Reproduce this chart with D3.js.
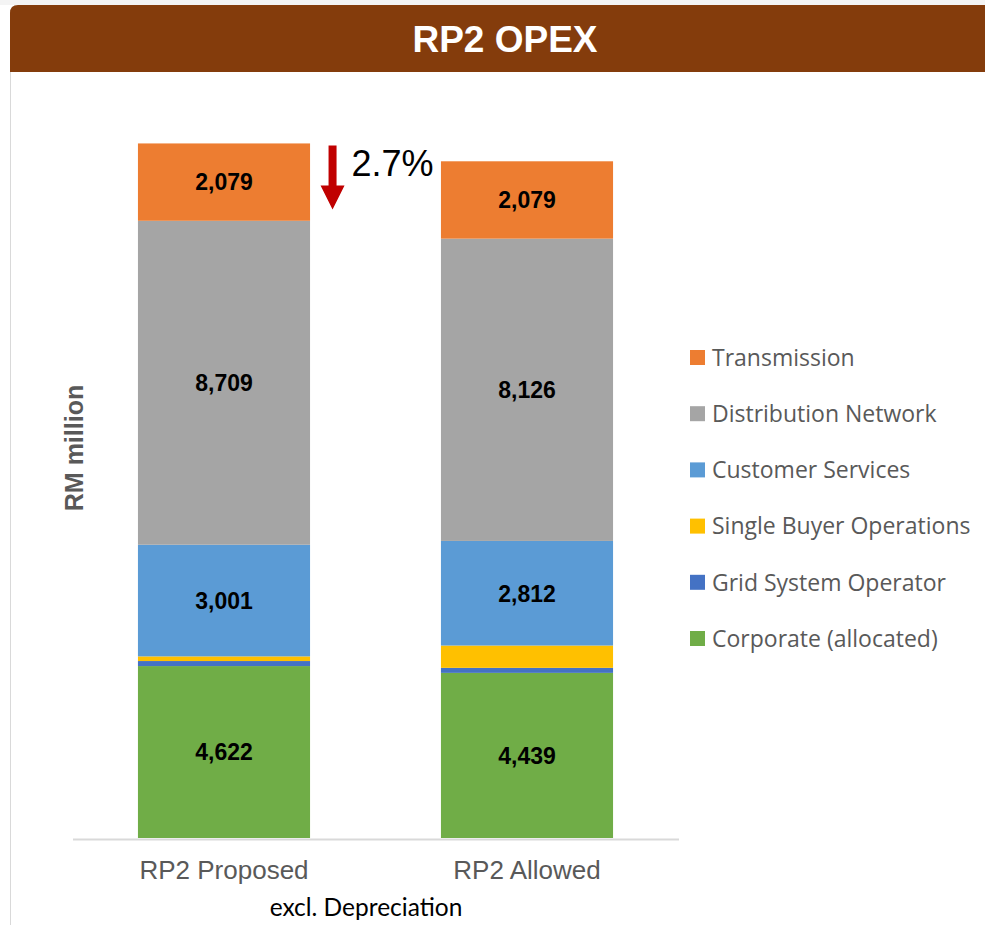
<!DOCTYPE html>
<html>
<head>
<meta charset="utf-8">
<script src="https://cdn.jsdelivr.net/npm/d3@7"></script>
<style>
  body { margin: 0; background: #fff; }
  svg { display: block; }
</style>
</head>
<body>
<div id="chart"></div>
<script>
// values (RM million)
const categories = ['RP2 Proposed', 'RP2 Allowed'];
const seriesNames = ['Corporate (allocated)', 'Grid System Operator', 'Single Buyer Operations',
  'Customer Services', 'Distribution Network', 'Transmission'];
const corporate = [4622, 4439];
const gridOperator = [135, 135];
const singleBuyer = [125, 600];
const customer = [3001, 2812];
const distribution = [8709, 8126];
const transmission = [2079, 2079];
const labelled = ['Corporate (allocated)', 'Customer Services', 'Distribution Network', 'Transmission'];
const colors = ['#70AD47', '#4472C4', '#FFC000', '#5B9BD5', '#A5A5A5', '#ED7D31'];
const changeLabel = '2.7%';

const width = 985, height = 925;
const margin = { left: 72.5, right: 306.5, top: 94, bottom: 87 };

const rows = categories.map((c, i) => ({
  category: c,
  'Corporate (allocated)': corporate[i],
  'Grid System Operator': gridOperator[i],
  'Single Buyer Operations': singleBuyer[i],
  'Customer Services': customer[i],
  'Distribution Network': distribution[i],
  'Transmission': transmission[i],
}));

const svg = d3.select('#chart').append('svg')
  .attr('width', width)
  .attr('height', height);

// header panel
svg.append('rect').attr('x', 0).attr('y', 0).attr('width', width).attr('height', 5).attr('fill', '#f4f4f4');
svg.append('path')
  .attr('d', `M10,72 V13 Q10,5 18,5 H${width} V72 Z`)
  .attr('fill', '#843C0C');
svg.append('line')
  .attr('x1', 10.5).attr('x2', 10.5).attr('y1', 72).attr('y2', height)
  .attr('stroke', '#d9d9d9').attr('stroke-width', 1);
svg.append('text')
  .attr('x', 505).attr('y', 52)
  .attr('text-anchor', 'middle')
  .style('font-family', '"Liberation Sans", Arial, sans-serif')
  .style('font-weight', 'bold')
  .style('font-size', '37px')
  .attr('fill', '#fff')
  .text('RP2 OPEX');

const x = d3.scaleBand()
  .domain(categories)
  .range([margin.left, width - margin.right])
  .paddingInner(0.432)
  .paddingOuter(0.216);

const y = d3.scaleLinear()
  .domain([0, 20000])
  .range([height - margin.bottom, margin.top]);

const color = d3.scaleOrdinal().domain(seriesNames).range(colors);

const stacked = d3.stack().keys(seriesNames)(rows);

const g = svg.append('g').attr('class', 'group-bars');
const layers = g.selectAll('g.layer')
  .data(stacked)
  .join('g')
  .attr('class', 'layer')
  .attr('fill', (d) => color(d.key));

layers.selectAll('rect')
  .data((d) => d)
  .join('rect')
  .attr('x', (d) => x(d.data.category))
  .attr('width', x.bandwidth())
  .attr('y', (d) => y(d[1]))
  .attr('height', (d) => y(d[0]) - y(d[1]));

// value labels
const labelLayers = stacked.filter((s) => labelled.includes(s.key));
g.selectAll('g.lbl')
  .data(labelLayers)
  .join('g')
  .attr('class', 'lbl')
  .selectAll('text')
  .data((d) => d)
  .join('text')
  .attr('x', (d) => x(d.data.category) + x.bandwidth() / 2)
  .attr('y', (d) => (y(d[0]) + y(d[1])) / 2)
  .attr('dy', '0.36em')
  .attr('text-anchor', 'middle')
  .style('font-family', '"Liberation Sans", Arial, sans-serif')
  .style('font-weight', 'bold')
  .style('font-size', '23px')
  .attr('fill', '#000')
  .text((d) => d3.format(',')(d[1] - d[0]));

// x axis
const axis = svg.append('g')
  .attr('class', 'group-axis')
  .attr('transform', `translate(0,${y(0) + 1})`)
  .call(d3.axisBottom(x).tickSize(0).tickPadding(22));
axis.select('.domain').attr('stroke', '#d9d9d9').attr('stroke-width', 2);
axis.selectAll('text')
  .style('font-family', '"Liberation Sans", Arial, sans-serif')
  .style('font-size', '26px')
  .attr('fill', '#595959');

svg.append('text')
  .attr('x', 366).attr('y', 916)
  .attr('text-anchor', 'middle')
  .style('font-family', 'Lato, "Open Sans", sans-serif')
  .style('font-size', '24.5px')
  .attr('fill', '#000')
  .text('excl. Depreciation');

// y axis title
svg.append('text')
  .attr('transform', `translate(83,${(y(0) + margin.top) / 2 - 18}) rotate(-90)`)
  .attr('text-anchor', 'middle')
  .style('font-family', '"Liberation Sans", Arial, sans-serif')
  .style('font-weight', 'bold')
  .style('font-size', '25px')
  .attr('fill', '#595959')
  .text('RM million');

// change arrow
const totals = rows.map((r) => d3.sum(seriesNames, (k) => r[k]));
const ax = x(categories[0]) + x.bandwidth() + 22.5;
const aTop = y(totals[0]) + 2;
svg.append('path')
  .attr('d', `M${ax - 4},${aTop} H${ax + 4} V${aTop + 40} H${ax + 12} L${ax},${aTop + 64} L${ax - 12},${aTop + 40} H${ax - 4} Z`)
  .attr('fill', '#C00000');
svg.append('text')
  .attr('x', ax + 19).attr('y', aTop + 31)
  .style('font-family', '"Liberation Sans", Arial, sans-serif')
  .style('font-size', '36px')
  .attr('fill', '#000')
  .text(changeLabel);

// legend
const legend = svg.append('g')
  .attr('class', 'legend')
  .attr('transform', 'translate(690,357.5)');
const items = legend.selectAll('g')
  .data(seriesNames.slice().reverse())
  .join('g')
  .attr('transform', (d, i) => `translate(0,${i * 56.2})`);
items.append('rect')
  .attr('x', 0).attr('y', -7.5)
  .attr('width', 15).attr('height', 15)
  .attr('fill', (d) => color(d));
items.append('text')
  .attr('x', 22).attr('y', 0)
  .attr('dy', '0.36em')
  .style('font-family', '"Open Sans", "Noto Sans", sans-serif')
  .style('font-size', '23px')
  .attr('fill', '#595959')
  .text((d) => d);
</script>
</body>
</html>
